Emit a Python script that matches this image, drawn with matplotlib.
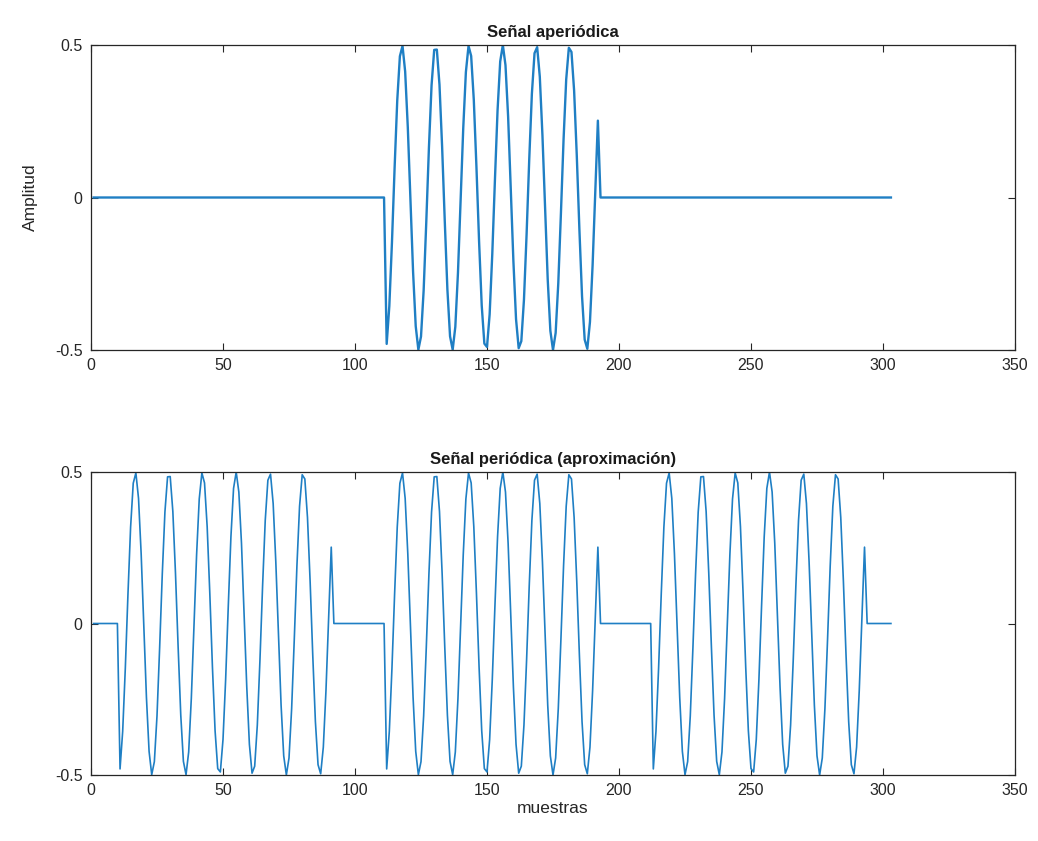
import numpy as np
import matplotlib
matplotlib.use("Agg")
import matplotlib.pyplot as plt

# ---- data ----
# one burst of the sinusoid (81 samples)
burst = [-0.480, -0.356, -0.147, 0.097, 0.318, 0.463, 0.497, 0.413, 0.230, -0.008,
         -0.244, -0.422, -0.499, -0.456, -0.305, -0.080, 0.163, 0.368, 0.484, 0.485,
         0.370, 0.166, -0.077, -0.302, -0.455, -0.499, -0.424, -0.247, -0.012, 0.227,
         0.411, 0.497, 0.464, 0.320, 0.100, -0.144, -0.354, -0.479, -0.490, -0.383,
         -0.185, 0.057, 0.286, 0.446, 0.500, 0.434, 0.265, 0.032, -0.209, -0.399,
         -0.494, -0.471, -0.335, -0.120, 0.125, 0.340, 0.473, 0.493, 0.396, 0.204,
         -0.037, -0.269, -0.437, -0.500, -0.444, -0.281, -0.052, 0.190, 0.387, 0.491,
         0.477, 0.350, 0.139, -0.105, -0.324, -0.466, -0.496, -0.408, -0.222, 0.017,
         0.252]
lead_top = [0.0] * 111      # samples 1..111
trail_top = [0.0] * 111     # samples 193..303
lead_per = [0.0] * 10       # samples 1..10 of each period
trail_per = [0.0] * 10      # samples 92..101 of each period

aperiodic = lead_top + burst + trail_top
one_period = lead_per + burst + trail_per
periodic = one_period * 3
samples = list(range(1, len(aperiodic) + 1))

xticks = [0, 50, 100, 150, 200, 250, 300, 350]
yticks = [-0.5, 0, 0.5]
yticklabels = ["-0.5", "0", "0.5"]

titles = ["Señal aperiódica", "Señal periódica (aproximación)"]

plt.rcParams['font.family'] = ['Liberation Sans', 'DejaVu Sans']

fig = plt.figure(figsize=(10.38, 8.41), dpi=100)
W, H = 1038, 841
ax1 = fig.add_axes([91 / W, 1 - 350 / H, (1015 - 91) / W, (350 - 45) / H])
ax2 = fig.add_axes([91 / W, 1 - 775 / H, (1015 - 91) / W, (775 - 472) / H])

color = '#1f7fc4'
ax1.plot(samples, aperiodic, color=color, lw=1.7)
ax2.plot(samples, periodic, color=color, lw=1.2)

for ax, t in zip([ax1, ax2], titles):
    ax.set_xlim(0, 350)
    ax.set_ylim(-0.5, 0.5)
    ax.set_xticks(xticks)
    ax.set_xticklabels([str(v) for v in xticks])
    ax.set_yticks(yticks)
    ax.set_yticklabels(yticklabels)
    ax.tick_params(direction='in', top=True, right=True, length=5, width=0.8,
                   colors='#262626', labelsize=11.5, pad=6)
    for sp in ax.spines.values():
        sp.set_color('#262626')
        sp.set_linewidth(0.9)
    ax.set_title(t, fontsize=12, fontweight='bold', color='#1a1a1a', pad=6)

ax1.set_ylabel("Amplitud", fontsize=12.5, color='#262626', labelpad=12)
ax2.set_xlabel("muestras", fontsize=12.5, color='#262626', labelpad=2)

fig.savefig("out.png", dpi=100, facecolor='white')
